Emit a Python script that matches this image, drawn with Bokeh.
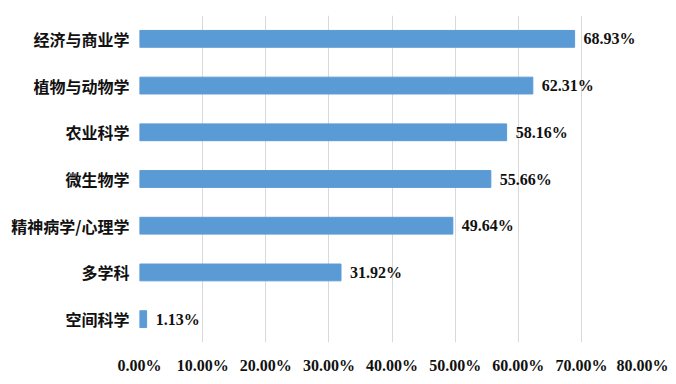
from bokeh.plotting import figure
from bokeh.models import ColumnDataSource, FactorRange, Range1d, FixedTicker, PrintfTickFormatter, LabelSet
from bokeh.embed import file_html
from bokeh.resources import INLINE

categories = ["经济与商业学", "植物与动物学", "农业科学", "微生物学", "精神病学/心理学", "多学科", "空间科学"]
values = [68.93, 62.31, 58.16, 55.66, 49.64, 31.92, 1.13]
x_ticks = [0, 10, 20, 30, 40, 50, 60, 70, 80]

labels = [f"{v:.2f}%" for v in values]
source = ColumnDataSource(data=dict(cat=categories, val=values, lab=labels))

p = figure(width=668, height=376, output_backend="svg", toolbar_location=None,
           y_range=FactorRange(*categories[::-1]), x_range=Range1d(0, 80),
           min_border_left=139, min_border_right=24, min_border_top=15, min_border_bottom=33)
p.outline_line_color = None
p.background_fill_color = "white"

p.hbar(y="cat", right="val", left=0, height=0.36, color="#5B9BD5", source=source)

p.add_layout(LabelSet(x="val", y="cat", text="lab", source=source, x_offset=9,
                      text_baseline="middle", text_align="left",
                      text_font="Liberation Serif", text_font_style="bold",
                      text_font_size="16px", text_color="#111111"))

p.xaxis.ticker = FixedTicker(ticks=x_ticks)
p.xaxis.formatter = PrintfTickFormatter(format="%.2f%%")
p.xaxis.axis_line_color = None
p.xaxis.major_tick_line_color = None
p.xaxis.minor_tick_line_color = None
p.xaxis.major_tick_out = 0
p.xaxis.major_label_standoff = 14
p.xaxis.major_label_text_font = "Liberation Serif"
p.xaxis.major_label_text_font_style = "bold"
p.xaxis.major_label_text_font_size = "16px"
p.xaxis.major_label_text_color = "#111111"

p.yaxis.axis_line_color = None
p.yaxis.major_tick_line_color = None
p.yaxis.major_tick_out = 0
p.yaxis.major_label_standoff = 10
p.yaxis.major_label_text_font = "Noto Sans CJK SC"
p.yaxis.major_label_text_font_style = "bold"
p.yaxis.major_label_text_font_size = "16px"
p.yaxis.major_label_text_color = "#111111"

p.xgrid.grid_line_color = "#D9D9D9"
p.xgrid.grid_line_width = 1
p.ygrid.grid_line_color = None

open("out.html", "w").write(file_html(p, INLINE))
